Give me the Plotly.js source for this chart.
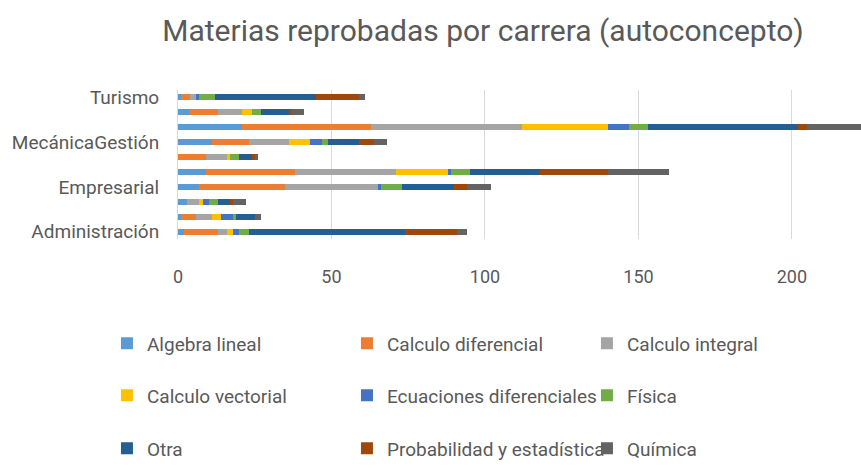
<!DOCTYPE html>
<html>
<head>
<meta charset="utf-8">
<script src="https://cdn.plot.ly/plotly-3.0.1.min.js"></script>
<style>html,body{margin:0;padding:0;background:#fff;}#chart{width:861px;height:468px;}</style>
</head>
<body>
<div id="chart"></div>
<script>
// Rows, top to bottom
const careers = ["Turismo", "Turismo B", "Gestión B", "MecánicaGestión", "Mecánica B", "Empresarial B", "Empresarial", "Administración C", "Administración B", "Administración"];
const shownLabels = ["Turismo", "MecánicaGestión", "Empresarial", "Administración"];
const subjects = ["Algebra lineal", "Calculo diferencial", "Calculo integral", "Calculo vectorial", "Ecuaciones diferenciales", "Física", "Otra", "Probabilidad y estadística", "Química"];

const algebraLineal      = [1, 4, 21, 11, 0, 9, 7, 3, 1, 2];
const calculoDiferencial = [3, 9, 42, 12, 9, 29, 28, 0, 5, 11];
const calculoIntegral    = [2, 8, 49, 13, 7, 33, 30, 4, 5, 3];
const calculoVectorial   = [0, 3, 28, 7, 1, 17, 0, 1, 3, 2];
const ecuaciones         = [1, 0, 7, 4, 0, 1, 1, 2, 4, 2];
const fisica             = [5, 3, 6, 2, 3, 6, 7, 3, 1, 3];
const otra               = [33, 9, 49, 10, 4, 23, 17, 4, 6, 51];
const probabilidad       = [14, 1, 3, 5, 1, 22, 4, 1, 0, 17];
const quimica            = [2, 4, 20, 4, 1, 20, 8, 4, 2, 3];

const xTicks = [0, 50, 100, 150, 200];

const seriesValues = [algebraLineal, calculoDiferencial, calculoIntegral, calculoVectorial, ecuaciones, fisica, otra, probabilidad, quimica];
const colors = ["#5B9BD5", "#ED7D31", "#A5A5A5", "#FFC000", "#4472C4", "#70AD47", "#255E91", "#9E480E", "#636363"];
const legendIds = ["legend", "legend", "legend", "legend2", "legend2", "legend2", "legend3", "legend3", "legend3"];

const FONT = "Roboto, 'Liberation Sans', sans-serif";
const GRAY = "#595959";

const traces = subjects.map((name, i) => ({
  type: "bar",
  orientation: "h",
  name: name,
  y: careers,
  x: seriesValues[i],
  marker: {color: colors[i], line: {width: 0}},
  legend: legendIds[i],
  hoverinfo: "x+y+name"
}));

function legendAt(yPaper) {
  return {
    orientation: "h",
    x: -0.104, xanchor: "left",
    y: yPaper, yanchor: "middle",
    entrywidth: 195, entrywidthmode: "pixels",
    font: {family: FONT, size: 19, color: GRAY},
    bgcolor: "rgba(0,0,0,0)",
    traceorder: "normal",
    itemclick: false
  };
}

const layout = {
  width: 861, height: 468,
  margin: {l: 178, r: 0, t: 90, b: 225},
  paper_bgcolor: "#ffffff",
  plot_bgcolor: "#ffffff",
  barmode: "stack",
  bargap: 0.6,
  title: {
    text: "Materias reprobadas por carrera (autoconcepto)",
    font: {family: FONT, size: 30, color: GRAY},
    xref: "container", x: 0.561, xanchor: "center",
    yref: "container", y: 0.934, yanchor: "middle"
  },
  xaxis: {
    range: [0, 222.5],
    tickvals: xTicks,
    ticktext: xTicks.map(String),
    showgrid: true, gridcolor: "#d9d9d9", gridwidth: 1,
    zeroline: false, showline: false,
    ticks: "", ticklabelstandoff: 25,
    tickfont: {family: FONT, size: 18, color: GRAY},
    fixedrange: true
  },
  yaxis: {
    type: "category",
    autorange: "reversed",
    tickvals: shownLabels,
    ticktext: shownLabels,
    showgrid: false, zeroline: false,
    showline: true, linecolor: "#d9d9d9", linewidth: 1,
    ticks: "", ticklabelstandoff: 14,
    tickfont: {family: FONT, size: 19, color: GRAY},
    fixedrange: true
  },
  legend: legendAt(-0.70),
  legend2: legendAt(-1.05),
  legend3: legendAt(-1.405),
  showlegend: true
};

Plotly.newPlot("chart", traces, layout, {displayModeBar: false, staticPlot: false});
</script>
</body>
</html>
